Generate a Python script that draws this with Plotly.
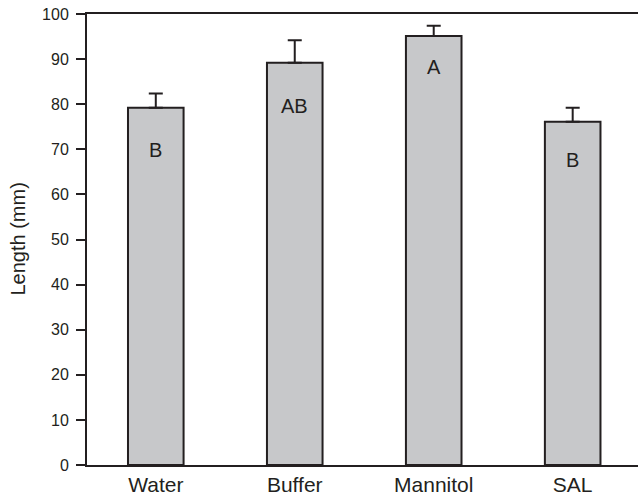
import plotly.graph_objects as go

categories = ["Water", "Buffer", "Mannitol", "SAL"]
lengths = [79.2, 89.2, 95.1, 76.1]
errors = [3.2, 5.0, 2.3, 3.1]
letters = ["B", "AB", "A", "B"]
letter_heights = [69.9, 79.6, 88.3, 67.6]
y_ticks = [0, 10, 20, 30, 40, 50, 60, 70, 80, 90, 100]

dark = "#231f20"
font = "Liberation Sans, Arial, sans-serif"

fig = go.Figure()
fig.add_trace(go.Bar(
    x=categories, y=lengths, width=0.4,
    marker=dict(color="#c7c8ca", line=dict(color=dark, width=2)),
    error_y=dict(type="data", array=errors, arrayminus=[0] * len(errors),
                 symmetric=False, color=dark, thickness=2, width=7),
    showlegend=False, hoverinfo="skip",
))

for c, t, h in zip(categories, letters, letter_heights):
    fig.add_annotation(x=c, y=h, text=t, showarrow=False,
                       font=dict(family=font, size=20, color=dark))

fig.add_annotation(x=-0.127, y=0.5, xref="paper", yref="paper",
                   xanchor="center", yanchor="middle",
                   text="Length (mm)", textangle=-90, showarrow=False,
                   font=dict(family=font, size=20, color=dark))

fig.update_layout(
    width=638, height=498,
    margin=dict(l=87, r=0, t=14, b=33),
    plot_bgcolor="white", paper_bgcolor="white",
    font=dict(family=font, color=dark),
)
fig.update_xaxes(
    range=[-0.495, 3.47], showline=True, linecolor=dark, linewidth=2,
    mirror=True, ticks="", showgrid=False, automargin=False,
    tickfont=dict(family=font, size=21, color=dark),
)
fig.update_yaxes(
    range=[0, 100], tickvals=y_ticks, showline=True, linecolor=dark, linewidth=2,
    ticks="outside", ticklen=9, tickwidth=2, tickcolor=dark, showgrid=False,
    zeroline=False, automargin=False, ticklabelstandoff=4,
    ticklabeloverflow="allow",
    tickfont=dict(family=font, size=16, color=dark),
)

fig.write_html("out.html", config={"displayModeBar": False},
               post_script="document.body.style.margin='0';")
